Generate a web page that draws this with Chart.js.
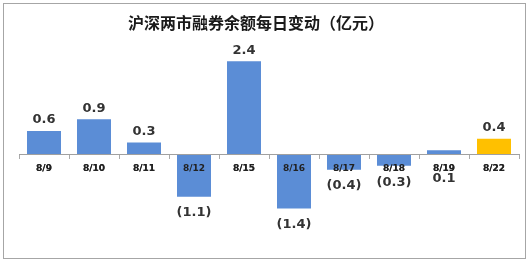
<!DOCTYPE html>
<html lang="zh">
<head>
<meta charset="UTF-8">
<title>沪深两市融券余额每日变动</title>
<script src="https://cdn.jsdelivr.net/npm/chart.js@4.4.1/dist/chart.umd.min.js"></script>
<style>
  html, body { margin: 0; padding: 0; background: #fff; }
  #wrap { width: 529px; height: 263px; }
</style>
</head>
<body>
<div id="wrap"><canvas id="myChart" width="529" height="263"></canvas></div>
<script>
// data
var dates = ["8/9", "8/10", "8/11", "8/12", "8/15", "8/16", "8/17", "8/18", "8/19", "8/22"];
var changes = [0.6, 0.9, 0.3, -1.1, 2.4, -1.4, -0.4, -0.3, 0.1, 0.4];
var chartTitle = "沪深两市融券余额每日变动（亿元）";

var blue = "#5B8DD6";
var yellow = "#FFC000";
var barColors = changes.map(function (v, i) { return i === changes.length - 1 ? yellow : blue; });

function fmt(v) {
    var s = Math.abs(v).toFixed(1);
    return v < 0 ? "(" + s + ")" : s;
}

// frame, title and value labels
var decor = {
    id: "decor",
    beforeDraw: function (chart) {
        var ctx = chart.ctx;
        ctx.save();
        ctx.fillStyle = "#fff";
        ctx.fillRect(0, 0, chart.width, chart.height);
        ctx.strokeStyle = "#a6a6a6";
        ctx.lineWidth = 1;
        ctx.strokeRect(3.5, 3.5, 522, 255);
        ctx.fillStyle = "#1a1a1a";
        ctx.font = "bold 16px 'Noto Sans CJK SC', sans-serif";
        ctx.textAlign = "center";
        ctx.textBaseline = "middle";
        ctx.fillText(chartTitle, 256, 23);
        ctx.restore();
    },
    afterDatasetsDraw: function (chart) {
        // category labels sit on top of the bars in the original
        chart.scales.x.draw(chart.chartArea);
    },
    afterDraw: function (chart) {
        var ctx = chart.ctx;
        var meta = chart.getDatasetMeta(0);
        var zeroY = chart.scales.y.getPixelForValue(0);
        ctx.save();
        ctx.fillStyle = "#333";
        ctx.font = "bold 13px 'DejaVu Sans', sans-serif";
        ctx.textAlign = "center";
        ctx.textBaseline = "middle";
        meta.data.forEach(function (bar, i) {
            var v = changes[i];
            var y;
            if (Math.abs(v) < 0.2) {
                y = zeroY + 24;
            } else if (v < 0) {
                y = Math.max(bar.y + 16, zeroY + 28);
            } else {
                y = bar.y - 11;
            }
            ctx.fillText(fmt(v), bar.x, y);
        });
        ctx.restore();
    }
};

var myChart = new Chart("myChart", {
    type: "bar",
    data: {
        labels: dates,
        datasets: [{
            data: changes,
            backgroundColor: barColors,
            categoryPercentage: 0.68,
            barPercentage: 1.0
        }]
    },
    options: {
        responsive: false,
        animation: false,
        layout: { padding: { top: 38, bottom: 12, left: 19, right: 10 } },
        plugins: {
            legend: { display: false },
            title: { display: false },
            tooltip: { enabled: false }
        },
        scales: {
            y: {
                display: false,
                min: -2.5,
                max: 3
            },
            x: {
                position: { y: 0 },
                grid: {
                    offset: true,
                    drawOnChartArea: false,
                    drawTicks: true,
                    tickLength: 4,
                    color: "#aaaaaa"
                },
                border: { display: true, color: "#a0a0a0" },
                ticks: {
                    color: "#222",
                    padding: 5,
                    autoSkip: false,
                    maxRotation: 0,
                    font: { family: "'DejaVu Sans'", size: 9, weight: "bold" }
                }
            }
        }
    },
    plugins: [decor]
});
</script>
</body>
</html>
